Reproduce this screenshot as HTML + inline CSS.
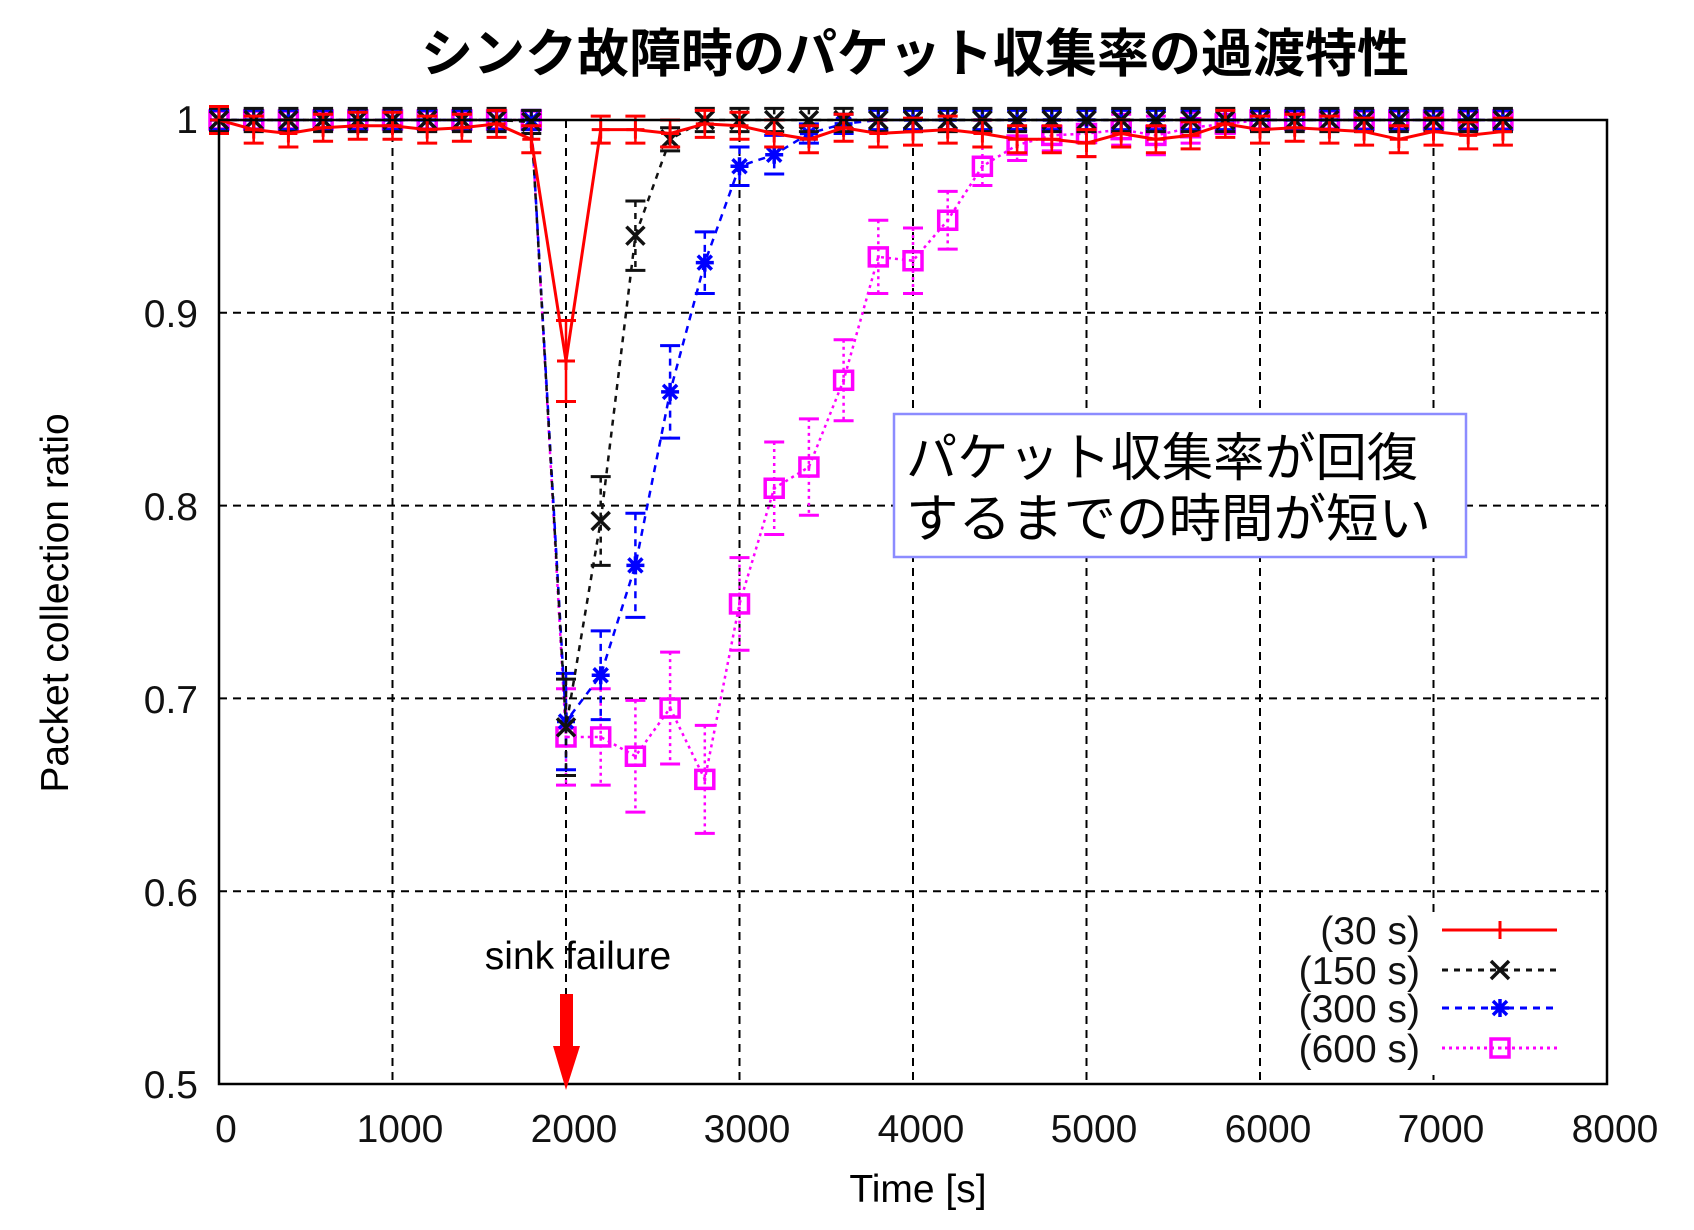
<!DOCTYPE html>
<html><head><meta charset="utf-8"><style>
body{margin:0;background:#fff;}
svg text{font-family:"Liberation Sans","Noto Sans CJK JP",sans-serif;}
</style></head><body>
<svg id="s" width="1694" height="1225" viewBox="0 0 1694 1225" xmlns="http://www.w3.org/2000/svg">
<rect width="1694" height="1225" fill="#fff"/>
<g id="grid" stroke="#000" stroke-width="2" stroke-dasharray="8,6"></g>
<rect x="1272" y="912" width="333" height="163" fill="#fff"/>
<g id="data"></g>
<rect x="219" y="120" width="1388" height="964" fill="none" stroke="#000" stroke-width="2.5"/>
<rect x="894" y="414" width="572" height="143" fill="#fff" stroke="#8c8cff" stroke-width="2.5"/>
<text x="906" y="476" font-size="52" textLength="512" lengthAdjust="spacingAndGlyphs">パケット収集率が回復</text>
<text x="906" y="537" font-size="52" textLength="525" lengthAdjust="spacingAndGlyphs">するまでの時間が短い</text>
<text x="915" y="72" font-size="52" font-weight="bold" text-anchor="middle">シンク故障時のパケット収集率の過渡特性</text>
<g font-size="39" text-anchor="end" fill="#111">
<text x="198" y="133">1</text><text x="198" y="327">0.9</text><text x="198" y="520">0.8</text>
<text x="198" y="713">0.7</text><text x="198" y="906">0.6</text><text x="198" y="1098">0.5</text>
</g>
<g font-size="39" text-anchor="middle" fill="#111">
<text x="226" y="1142">0</text><text x="400" y="1142">1000</text><text x="574" y="1142">2000</text>
<text x="747" y="1142">3000</text><text x="921" y="1142">4000</text><text x="1094" y="1142">5000</text>
<text x="1268" y="1142">6000</text><text x="1441" y="1142">7000</text><text x="1615" y="1142">8000</text>
</g>
<text x="918" y="1202" font-size="39" text-anchor="middle">Time [s]</text>
<text transform="translate(68,603) rotate(-90)" font-size="39" text-anchor="middle">Packet collection ratio</text>
<text x="578" y="969" font-size="39" text-anchor="middle">sink failure</text>
<rect x="560" y="994" width="13" height="54" fill="#f00"/>
<polygon points="553,1046 580,1046 566,1090" fill="#f00"/>
<g font-size="39" text-anchor="end" fill="#111">
<text x="1420" y="944">(30 s)</text><text x="1420" y="984">(150 s)</text>
<text x="1420" y="1022">(300 s)</text><text x="1420" y="1062">(600 s)</text>
</g>
<g id="leg"></g>
</svg>
<script>
const X=t=>219+t*0.1735, Y=v=>120+(1-v)*1928;
const ns="http://www.w3.org/2000/svg";
function el(p,tag,a){const e=document.createElementNS(ns,tag);for(const k in a)e.setAttribute(k,a[k]);p.appendChild(e);return e;}
const g=document.getElementById('grid');
for(let i=1;i<8;i++)el(g,'line',{x1:X(i*1000),x2:X(i*1000),y1:120,y2:1084});
for(let v of [0.6,0.7,0.8,0.9])el(g,'line',{x1:219,x2:1607,y1:Y(v),y2:Y(v)});
const T=[];for(let t=0;t<=7400;t+=200)T.push(t);
const r=[1,.995,.993,.996,.997,.997,.995,.996,.998,.99,.875,.995,.995,.993,.998,.997,.993,.99,.996,.993,.994,.995,.993,.99,.99,.988,.993,.99,.992,.998,.995,.996,.995,.994,.99,.994,.992,.994];
const k=T.map(t=>1);k[10]=.685;k[11]=.792;k[12]=.94;k[13]=.99;k[9]=.999;
const b=T.map(t=>1);Object.assign(b,{10:.688,11:.712,12:.769,13:.859,14:.926,15:.976,16:.982,17:.993,18:.998});
const m=T.map(t=>1);Object.assign(m,{10:.68,11:.68,12:.67,13:.695,14:.658,15:.749,16:.809,17:.82,18:.865,19:.929,20:.927,21:.948,22:.976,23:.987,24:.992,25:.993,26:.995,27:.992,28:.996,29:.998});
const d=document.getElementById('data');
function series(vals,col,dash,mk,eb){
 const pts=vals.map((v,i)=>X(T[i])+','+Y(v)).join(' ');
 el(d,'polyline',{points:pts,fill:'none',stroke:col,'stroke-width':mk=='+'?3:2.5,'stroke-dasharray':dash||''});
 vals.forEach((v,i)=>{const x=X(T[i]),e=eb(v,i);
  el(d,'line',{x1:x,x2:x,y1:Y(v+e),y2:Y(v-e),stroke:col,'stroke-width':2.5,'stroke-dasharray':dash||''});
  for(const yy of [Y(v+e),Y(v-e)])el(d,'line',{x1:x-10,x2:x+10,y1:yy,y2:yy,stroke:col,'stroke-width':3});
  marker(d,mk,x,Y(v),col);});
}
function marker(p,mk,x,y,col){
 const s=9;
 if(mk=='+'){el(p,'path',{d:`M${x-s} ${y}H${x+s}M${x} ${y-s}V${y+s}`,stroke:col,'stroke-width':3});}
 if(mk=='x'){el(p,'path',{d:`M${x-s} ${y-s}L${x+s} ${y+s}M${x-s} ${y+s}L${x+s} ${y-s}`,stroke:col,'stroke-width':3.5});}
 if(mk=='*'){el(p,'path',{d:`M${x-s} ${y}H${x+s}M${x} ${y-s}V${y+s}M${x-7} ${y-7}L${x+7} ${y+7}M${x-7} ${y+7}L${x+7} ${y-7}`,stroke:col,'stroke-width':3.5});}
 if(mk=='s'){el(p,'rect',{x:x-9,y:y-9,width:18,height:18,fill:'none',stroke:col,'stroke-width':3.5});el(p,'rect',{x:x-1.5,y:y-1.5,width:3,height:3,fill:col});}
}
const ebk=(v,i)=>i==10?.025:i==11?.023:i==12?.018:.006;
const ebb=(v,i)=>({10:.025,11:.023,12:.027,13:.024,14:.016,15:.01,16:.01}[i]||.005);
const ebm=(v,i)=>({10:.025,11:.025,12:.029,13:.029,14:.028,15:.024,16:.024,17:.025,18:.021,19:.019,20:.017,21:.015,22:.01,23:.008,24:.008,25:.012,26:.008,27:.01,28:.008}[i]||.005);
series(m,'#f0f','3,4','s',ebm);
series(b,'#00f','7,6','*',ebb);
series(k,'#111','6,6','x',ebk);
series(r,'#f00','','+',(v,i)=>i==10?.021:.007);
const L=document.getElementById('leg');
const rows=[[930,'#f00','','+'],[970,'#111','6,6','x'],[1008,'#00f','7,6','*'],[1048,'#f0f','3,4','s']];
rows.forEach(([y,c,da,mk])=>{el(L,'line',{x1:1442,x2:1557,y1:y,y2:y,stroke:c,'stroke-width':3,'stroke-dasharray':da});marker(L,mk,1500,y,c);});
</script>
</body></html>
